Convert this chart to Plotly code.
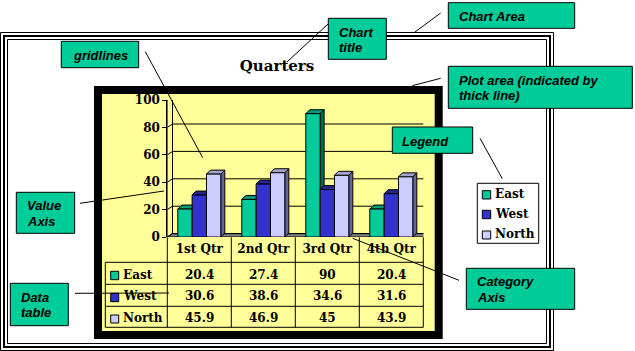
import plotly.graph_objects as go

# ---------- data ----------
categories = ["1st Qtr", "2nd Qtr", "3rd Qtr", "4th Qtr"]
east = [20.4, 27.4, 90, 20.4]
west = [30.6, 38.6, 34.6, 31.6]
north = [45.9, 46.9, 45, 43.9]
series_names = ["East", "West", "North"]
value_ticks = [0, 20, 40, 60, 80, 100]
chart_title = "Quarters"

# ---------- style ----------
W, H = 635, 351
GREEN, BLUE, LILAC = "#00CC99", "#3333CC", "#CCCCFF"
TOPS = ["#009973", "#26268C", "#A3A3CC"]
SIDES = ["#006B50", "#1A1A80", "#666699"]
YELLOW = "#FFFF99"
SERIF = "DejaVu Serif"
SANS = "Liberation Sans"

AX_L, AX_R, AX_T, AX_B = 167.3, 423.3, 100.0, 237.0
GAP = 0.328
pxx = (AX_R - AX_L) / 4.0
pxy = (AX_B - AX_T) / 100.0


def px(x):
    return x / W


def py(y):
    return 1 - y / H


series = [east, west, north]
colors = [GREEN, BLUE, LILAC]
xs = list(range(len(categories)))

fig = go.Figure()
for name, vals, col in zip(series_names, series, colors):
    fig.add_bar(x=xs, y=vals, name=name, marker=dict(color=col, line=dict(color="black", width=1)),
                showlegend=False)

shapes = []


def rect(x0, y0, x1, y1, fill=None, lw=1, layer="above", line="black"):
    shapes.append(dict(type="rect", xref="paper", yref="paper", x0=px(x0), x1=px(x1), y0=py(y0), y1=py(y1),
                       fillcolor=fill if fill else "rgba(0,0,0,0)",
                       line=dict(color=line, width=lw), layer=layer))


def seg(x0, y0, x1, y1, lw=1, layer="above"):
    shapes.append(dict(type="line", xref="paper", yref="paper", x0=px(x0), x1=px(x1), y0=py(y0), y1=py(y1),
                       line=dict(color="black", width=lw), layer=layer))


def poly(points, fill):
    d = "M " + " L ".join(f"{a:.4f},{b:.4f}" for a, b in points) + " Z"
    shapes.append(dict(type="path", xref="x", yref="y", path=d, fillcolor=fill,
                       line=dict(color="black", width=1), layer="below"))


# chart-area triple frame
rect(0.5, 32.5, 553.5, 350.5, layer="below")
rect(4, 36, 550, 347, lw=2, layer="below")
rect(7.5, 39.5, 546.5, 343.5, layer="below")
# plot-area thick frame
rect(98, 90, 438.7, 335, fill=YELLOW, lw=8, layer="below")

# 3-D walls and floor, in data units
wx = 5.2 / pxx
wy = 3.4 / pxy
bx = 4.0 / pxx
by = 4.0 / pxy
xa, xb = -0.5, len(categories) - 0.5
poly([(xa + wx, wy), (xb + wx, wy), (xb + wx, 100 + wy), (xa + wx, 100 + wy)], YELLOW)
poly([(xa, 0), (xa + wx, wy), (xa + wx, 100 + wy), (xa, 100)], YELLOW)
poly([(xa, 0), (xb, 0), (xb + wx, wy), (xa + wx, wy)], "#808080")
for t in value_ticks:
    shapes.append(dict(type="line", xref="x", yref="y", x0=xa + wx, x1=xb + wx, y0=t + wy, y1=t + wy,
                       line=dict(color="black", width=1), layer="below"))
    shapes.append(dict(type="line", xref="x", yref="y", x0=xa, x1=xa + wx, y0=t, y1=t + wy,
                       line=dict(color="black", width=1), layer="below"))

# bar tops and sides, derived from the values
bw = (1 - GAP) / 3
for i, vals in enumerate(series):
    for c, v in enumerate(vals):
        x0 = c - 0.5 + GAP / 2 + i * bw
        x1 = x0 + bw
        poly([(x1, 0), (x1 + bx, by), (x1 + bx, v + by), (x1, v)], SIDES[i])
        poly([(x0, v), (x1, v), (x1 + bx, v + by), (x0 + bx, v + by)], TOPS[i])

# data table rules
col_x = [105.3, 167.3, 231.3, 295.3, 359.3, 423.3]
row_y = [237.3, 262.3, 284.3, 306.3, 327.3]
for x in col_x[1:]:
    seg(x, row_y[0], x, row_y[-1])
seg(col_x[0], row_y[1], col_x[0], row_y[-1])
for y in row_y[1:]:
    seg(col_x[0], y, col_x[-1], y)

annotations = []


def txt(x, y, s, font, anchor="left", size=12, bold=True, italic=False, xref="paper"):
    t = f"<b>{s}</b>" if bold else s
    if italic:
        t = f"<i>{t}</i>"
    annotations.append(dict(x=px(x) if xref == "paper" else x, y=py(y), xref=xref, yref="paper", text=t,
                            showarrow=False, xanchor=anchor, yanchor="middle", borderpad=0,
                            font=dict(family=font, size=size, color="black")))


# table contents
row_cy = [275, 296, 318]
key_y = [(271.3, 279.7), (293.3, 301.7), (315, 323)]
for r, (name, vals, col) in enumerate(zip(series_names, series, colors)):
    rect(110.7, key_y[r][0], 118.7, key_y[r][1], fill=col)
    txt(121.7, row_cy[r], name, SERIF)
    for c, v in enumerate(vals):
        txt(c, row_cy[r], f"{v:g}", SERIF, anchor="center", xref="x")

# legend
rect(477.3, 183.3, 538.7, 243.3, fill="white")
leg_y = [(190.7, 199), (210.3, 218.7), (231, 239)]
leg_cy = [194, 214, 234]
for r, (name, col) in enumerate(zip(series_names, colors)):
    rect(482.3, leg_y[r][0], 490.7, leg_y[r][1], fill=col)
    txt(494, leg_cy[r], name, SERIF)

# leader lines
leaders = [
    (287, 62, 328, 24), (415, 32, 440.7, 13), (145.3, 51.7, 202.7, 157.7), (412.3, 85.7, 440.7, 78.3),
    (480, 138.3, 502.3, 178.7), (80, 203.3, 164, 191), (75, 293.3, 169, 293), (352.7, 238.3, 459, 280.3),
]
for l in leaders:
    seg(*l)

# call-out boxes: (x0, y0, x1, y1, text x, lines)
boxes = [
    (61.3, 41.3, 138.7, 67.7, 71.5, [("gridlines", 55.5)]),
    (328.3, 18.3, 386.3, 59.3, 338, [("Chart", 32), ("title", 47)]),
    (448.3, 2.7, 574.7, 28.3, 458, [("Chart Area", 16)]),
    (448.3, 66.3, 632.3, 108.3, 457.5, [("Plot area (indicated by", 80), ("thick line)", 95)]),
    (392.3, 127, 472.7, 153.3, 401.2, [("Legend", 141)]),
    (466.3, 268.3, 574.7, 309.3, 476.2, [("Category", 281.5), ("Axis", 297)]),
    (16.3, 192.3, 74.7, 233.3, 25.8, [("Value", 205), ("Axis", 221)]),
    (10.3, 283.3, 68.3, 325.7, 19.5, [("Data", 297), ("table", 312)]),
]
for x0, y0, x1, y1, tx, lines in boxes:
    rect(x0, y0, x1, y1, fill=GREEN)
    for s, ty in lines:
        txt(tx, ty, s, SANS, size=13, italic=True)

fig.update_layout(
    width=W, height=H, margin=dict(l=0, r=0, t=0, b=0, autoexpand=False), autosize=False,
    paper_bgcolor="white", plot_bgcolor="rgba(0,0,0,0)",
    barmode="group", bargap=GAP, bargroupgap=0,
    title=dict(text=f"<b>{chart_title}</b>", x=px(277), y=py(65.7), xref="paper", yref="paper",
               xanchor="center", yanchor="middle", font=dict(family=SERIF, size=15, color="black")),
    xaxis=dict(domain=[px(AX_L), px(AX_R)], range=[xa, xb], tickmode="array", tickvals=xs, ticktext=categories,
               showgrid=False, zeroline=False, showline=False, ticks="", ticklabelstandoff=3,
               tickfont=dict(family=SERIF, size=12, color="black", weight=700)),
    yaxis=dict(domain=[py(AX_B), py(AX_T)], range=[0, 100], tickmode="array", tickvals=value_ticks,
               showgrid=False, zeroline=False, showline=True, linecolor="black", linewidth=1,
               ticks="outside", ticklen=4, tickcolor="black",
               tickfont=dict(family=SERIF, size=12, color="black", weight=700)),
    shapes=shapes, annotations=annotations,
)
fig.write_html("out.html", config=dict(displayModeBar=False),
               post_script="document.body.style.margin='0';")
